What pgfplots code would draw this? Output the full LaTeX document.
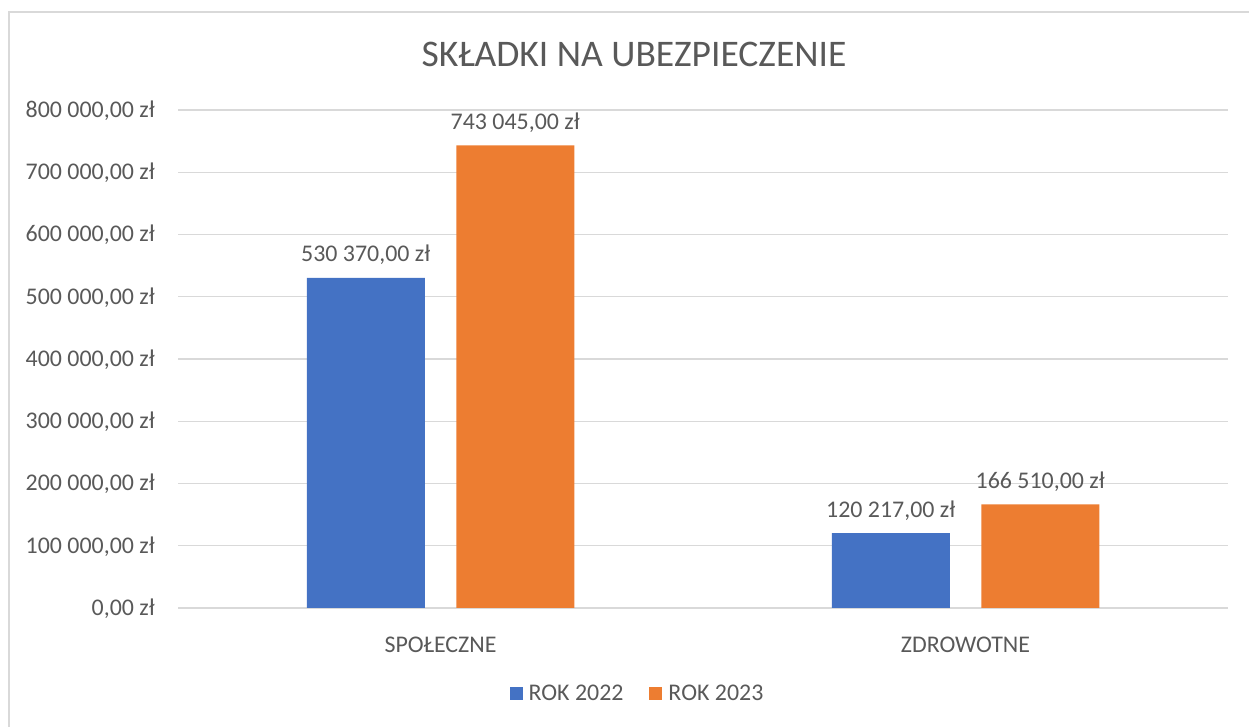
\documentclass[border=0pt]{standalone}
\usepackage{pgfplots}
\pgfplotsset{compat=1.18}
\usepackage{fontspec}
\setmainfont{Carlito}
\definecolor{txt}{HTML}{595959}
\definecolor{grd}{HTML}{D9D9D9}
\definecolor{cblue}{HTML}{4472C4}
\definecolor{corange}{HTML}{ED7D31}
\begin{document}
\begin{tikzpicture}[x=1bp,y=1bp]
\useasboundingbox (0,0) rectangle (1249,727);
\draw[grd, line width=1.3bp] (9,0) -- (9,715) -- (1249,715);
\node[anchor=base, text=txt, inner sep=0pt, font=\fontsize{37.7}{42}\selectfont] at (634,660) {SKŁADKI NA UBEZPIECZENIE};
\begin{axis}[
  at={(178bp,119bp)}, anchor=south west, scale only axis,
  width=1050bp, height=498bp,
  xmin=-0.5, xmax=1.5, ymin=0, ymax=800000,
  ybar=31.5bp, bar width=118bp,
  /pgf/number format/assume math mode=true,
  axis line style={draw=none},
  tick style={draw=none},
  ymajorgrids, major grid style={grd, line width=1.3bp},
  xtick={0,1}, xticklabels={SPOŁECZNE,ZDROWOTNE},
  ytick={0,100000,200000,300000,400000,500000,600000,700000,800000},
  yticklabels={{0,00 zł},{100 000,00 zł},{200 000,00 zł},{300 000,00 zł},{400 000,00 zł},{500 000,00 zł},{600 000,00 zł},{700 000,00 zł},{800 000,00 zł}},
  scaled y ticks=false,
  ticklabel style={text=txt, font=\fontsize{24}{28}\selectfont, inner sep=0pt},
  yticklabel style={anchor=base east, yshift=-7.5bp, xshift=-23bp},
  xticklabel style={anchor=base, yshift=-40bp},
  nodes near coords={\pgfmathprintnumber[fixed,fixed zerofill,precision=2,use comma,1000 sep={\ }]{\pgfplotspointmeta}\ zł},
  nodes near coords style={anchor=base, yshift=16bp, text=txt, font=\fontsize{24}{28}\selectfont, inner sep=0pt},
  legend columns=2,
  legend style={at={(0.4376,-0.1707)}, anchor=center, draw=none, fill=none,
    font=\fontsize{24}{28}\selectfont, text=txt,
    /tikz/every odd column/.append style={column sep=4bp},
    /tikz/every even column/.append style={column sep=24bp}},
  legend image code/.code={\fill[#1] (0bp,-6.5bp) rectangle (13bp,6.5bp);},
]
\addplot[fill=cblue, draw=none] coordinates {(0,530370) (1,120217)};
\addplot[fill=corange, draw=none] coordinates {(0,743045) (1,166510)};
\legend{ROK 2022, ROK 2023}
\end{axis}
\end{tikzpicture}
\end{document}
